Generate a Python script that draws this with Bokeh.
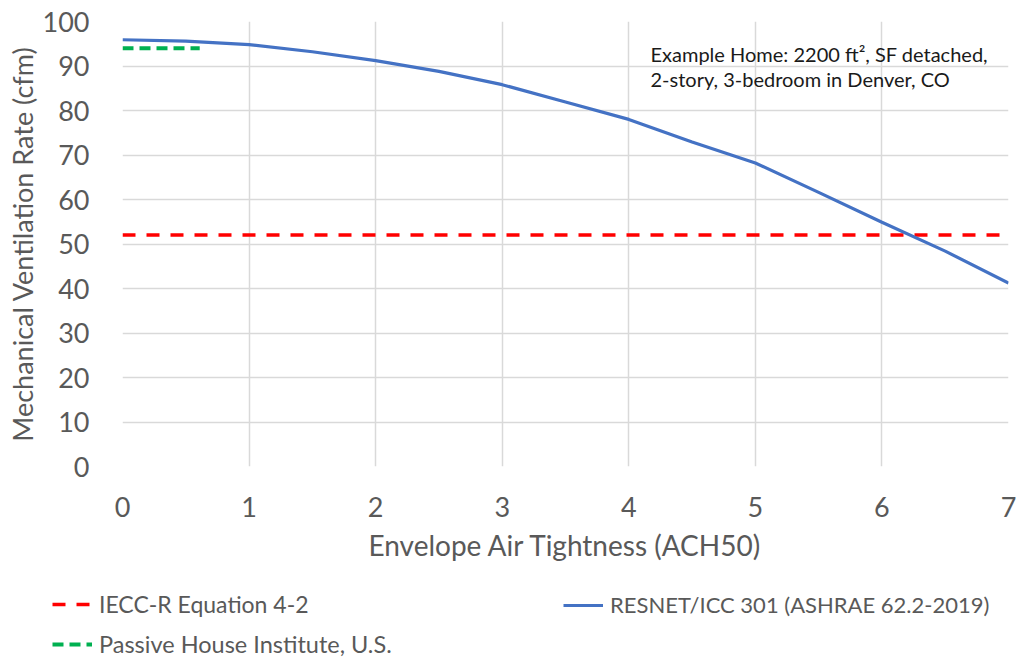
from bokeh.plotting import figure
from bokeh.models import Legend, LegendItem, Label, FixedTicker, Range1d
from bokeh.embed import file_html
from bokeh.resources import INLINE

# Data
ach50 = [0, 0.5, 1, 1.5, 2, 2.5, 3, 3.5, 4, 4.5, 5, 5.5, 6, 6.5, 7]
resnet_cfm = [95.9, 95.6, 94.8, 93.2, 91.2, 88.8, 85.8, 81.9, 78.0, 72.9, 68.2, 61.6, 54.9, 48.4, 41.2]
iecc_x = [0, 7]
iecc_cfm = [52, 52]
phius_x = [0, 0.61]
phius_cfm = [94, 94]
x_ticks = [0, 1, 2, 3, 4, 5, 6, 7]
y_ticks = [0, 10, 20, 30, 40, 50, 60, 70, 80, 90, 100]
series_names = ["IECC-R Equation 4-2", "RESNET/ICC 301 (ASHRAE 62.2-2019)", "Passive House Institute, U.S."]

FONT = "Lato"
GRAY = "#595959"
RED, BLUE, GREEN = "#ff0000", "#4472c4", "#00b050"

p = figure(width=1018, height=578, output_backend="svg", toolbar_location=None,
           x_range=Range1d(0, 7), y_range=Range1d(0, 100),
           min_border_left=122, min_border_right=10, min_border_top=21, min_border_bottom=112)
p.outline_line_color = None
p.background_fill_color = "white"

for ax in (p.xaxis[0], p.yaxis[0]):
    ax.axis_line_color = None
    ax.major_tick_line_color = None
    ax.minor_tick_line_color = None
    ax.major_label_text_font = FONT
    ax.major_label_text_font_size = "27px"
    ax.major_label_text_color = GRAY
    ax.axis_label_text_font = FONT
    ax.axis_label_text_font_style = "normal"
    ax.axis_label_text_color = GRAY

p.xaxis.axis_label_text_font_size = "28px"
p.yaxis.axis_label_text_font_size = "27px"
p.xaxis.ticker = FixedTicker(ticks=x_ticks)
p.yaxis.ticker = FixedTicker(ticks=y_ticks)
p.xaxis.axis_label = "Envelope Air Tightness (ACH50)"
p.yaxis.axis_label = "Mechanical Ventilation Rate (cfm)"
p.xaxis.major_label_standoff = 24
p.yaxis.major_label_standoff = 27
p.xaxis.axis_label_standoff = 8
p.yaxis.axis_label_standoff = 1

p.xgrid.ticker = FixedTicker(ticks=x_ticks)
p.ygrid.ticker = FixedTicker(ticks=y_ticks)
p.xgrid.grid_line_color = "#d9d9d9"
p.ygrid.grid_line_color = "#d9d9d9"
p.xgrid.grid_line_width = 1.5
p.ygrid.grid_line_width = 1.5

iecc_style = dict(line_color=RED, line_width=3.5, line_dash="13 11")
resnet_style = dict(line_color=BLUE, line_width=3.2)
phius_style = dict(line_color=GREEN, line_width=4, line_dash="11 6")

p.line(iecc_x, iecc_cfm, **iecc_style)
p.line(ach50, resnet_cfm, **resnet_style)
p.line(phius_x, phius_cfm, **phius_style)

for txt, yy in (("Example Home: 2200 ft\u00b2, SF detached,", 413), ("2-story, 3-bedroom in Denver, CO", 388)):
    p.add_layout(Label(x=528, y=yy, x_units="screen", y_units="screen", text=txt,
                       text_font=FONT, text_font_size="20px", text_color="#1a1a1a",
                       text_baseline="middle"))

# Legend strip below the chart (same series, drawn outside its view so only the legend shows)
lg = figure(width=1018, height=80, output_backend="svg", toolbar_location=None,
            x_range=Range1d(20, 21), y_range=Range1d(200, 201),
            x_axis_location=None, y_axis_location=None,
            min_border_left=0, min_border_right=0, min_border_top=0, min_border_bottom=0)
lg.outline_line_color = None
lg.grid.visible = False
l_iecc = lg.line(iecc_x, iecc_cfm, **iecc_style)
l_resnet = lg.line(ach50, resnet_cfm, **resnet_style)
l_phius = lg.line(phius_x, phius_cfm, **phius_style)

common = dict(border_line_color=None, background_fill_alpha=0, padding=0, margin=0,
              label_text_font=FONT, label_text_color=GRAY,
              glyph_width=40, glyph_height=20, label_height=20, label_standoff=7)
for name, rend, loc, fs in ((series_names[0], l_iecc, (52, 40), "23px"),
                            (series_names[1], l_resnet, (563, 40), "22px"),
                            (series_names[2], l_phius, (52, 0), "23.5px")):
    lg.add_layout(Legend(items=[LegendItem(label=name, renderers=[rend])], location=loc,
                         label_text_font_size=fs, **common))

open("out.html", "w").write(file_html([p, lg], INLINE))
